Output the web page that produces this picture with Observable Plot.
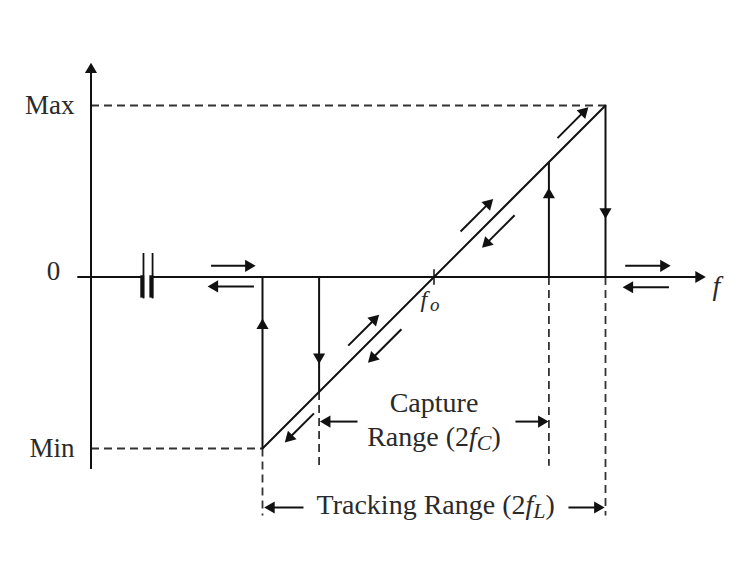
<!DOCTYPE html>
<html><head><meta charset="utf-8">
<script src="https://cdn.jsdelivr.net/npm/d3@7"></script>
<script src="https://cdn.jsdelivr.net/npm/@observablehq/plot@0.6"></script>
<style>body{margin:0;background:#fff}</style>
</head><body><div id="chart"></div>
<script>
// ---- Data (f measured from f0; tracking half-range fL = 1; output Max = 1, Min = -1) ----
const fL = 1, fC = 0.67;
const vMax = 1, vMin = -1;
const yLabels = ["Max", "0", "Min"];
const yLabelValues = [vMax, 0, vMin];
const xAxisExtent = [-2.08, 1.585];
const yAxisExtent = [-1.12, 1.25];
const yAxisAt = -2;
const breakX = [-1.694, -1.641];

// transfer characteristic (locked region)
const lineX = [-fL, fL];
const lineY = [vMin, vMax];

// vertical jumps
const jumpX  = [-fL, -fC, fC, fL];
const jumpY1 = [0, 0, 0, vMax];
const jumpY2 = [vMin, -fC, fC, 0];
const jumpHeadY = [-0.283, -0.466, 0.48, 0.38];
const jumpHeadDir = [1, -1, 1, -1]; // 1 = up, -1 = down

// dashed guides
const hDashY  = [vMax, vMin];
const hDashX1 = [yAxisAt, yAxisAt];
const hDashX2 = [fL, -fL];
const vDashX  = [-fL, -fC, fC, fL];
const vDashY1 = [vMin, -fC, 0, 0];
const vDashY2 = [-1.39, -1.10, -1.10, -1.39];

// direction arrows (start -> tip)
const arrowX1 = [-1.30, -1.05, 1.115, 1.37,  0.72, 0.155, 0.47, -0.50, -0.19, -0.70, -0.446, 0.475, -0.761, 0.784];
const arrowY1 = [0.065, -0.055, 0.065, -0.06, 0.81, 0.265, 0.36, -0.40, -0.305, -0.795, -0.843, -0.843, -1.344, -1.344];
const arrowX2 = [-1.04, -1.32, 1.38, 1.10,  0.90, 0.345, 0.28, -0.32, -0.385, -0.87, -0.665, 0.668, -0.99, 0.995];
const arrowY2 = [0.065, -0.055, 0.065, -0.06, 0.99, 0.455, 0.17, -0.22, -0.50, -0.965, -0.843, -0.843, -1.344, -1.344];

// text labels
const captureTitle = "Capture";
const captureRange = "Range (2fC)";
const trackingRange = "Tracking Range (2fL)";

// ---- Build ----
const xRange = [262, 605], yRange = [448, 105];
const pxPerUnit = (xRange[1] - xRange[0]) / 2;
const headR = 4.5;
const tipPx = 2 * Math.sqrt(Math.PI * headR * headR / (3 * Math.sqrt(3)));
const headBack = tipPx / pxPerUnit;

const arrows = arrowX1.map((x1, i) => {
  const x2 = arrowX2[i], y1 = arrowY1[i], y2 = arrowY2[i];
  const L = Math.hypot(x2 - x1, y2 - y1);
  const ux = (x2 - x1) / L, uy = (y2 - y1) / L;
  return {x1, y1, x2: x2 - ux * headBack, y2: y2 - uy * headBack,
          cx: x2 - ux * headBack, cy: y2 - uy * headBack,
          rot: Math.atan2(-uy, ux) * 180 / Math.PI + 90};
});
// axis heads
arrows.push({cx: xAxisExtent[1] - headBack, cy: 0, rot: 90});
arrows.push({cx: yAxisAt, cy: yAxisExtent[1] - headBack, rot: 0});
const jumpHeads = jumpX.map((x, i) => ({cx: x, cy: jumpHeadY[i], rot: jumpHeadDir[i] > 0 ? 0 : 180}));
const heads = arrows.filter(d => d.cx !== undefined).concat(jumpHeads);

const ink = "#111", dashInk = "#333", textInk = "#2a2a2a";
const serif = "'Liberation Serif', 'Times New Roman', serif";

const chart = Plot.plot({
  width: 752, height: 577, margin: 0,
  x: {domain: [-1, 1], range: xRange, axis: null},
  y: {domain: [-1, 1], range: yRange, axis: null},
  style: {background: "white", fontFamily: serif},
  marks: [
    // dashed guides
    Plot.link(hDashY.map((y, i) => ({x1: hDashX1[i], x2: hDashX2[i], y})),
      {x1: "x1", x2: "x2", y1: "y", y2: "y", stroke: dashInk, strokeWidth: 1.8, strokeDasharray: "8,5"}),
    Plot.link(vDashX.map((x, i) => ({x, y1: vDashY1[i], y2: vDashY2[i]})),
      {x1: "x", x2: "x", y1: "y1", y2: "y2", stroke: dashInk, strokeWidth: 1.8, strokeDasharray: "8,5"}),
    // axes
    Plot.link([{x1: xAxisExtent[0], x2: breakX[0]}, {x1: breakX[1], x2: xAxisExtent[1] - headBack}],
      {x1: "x1", x2: "x2", y1: 0, y2: 0, stroke: ink, strokeWidth: 2}),
    Plot.link([{y1: yAxisExtent[0], y2: yAxisExtent[1] - headBack}],
      {x1: yAxisAt, x2: yAxisAt, y1: "y1", y2: "y2", stroke: ink, strokeWidth: 2}),
    // axis break symbol
    Plot.link(breakX, {x1: d => d, x2: d => d, y1: 0.14, y2: -0.125, stroke: ink, strokeWidth: 1.8}),
    Plot.link(breakX, {x1: d => d - 0.007, x2: d => d - 0.007, y1: 0.01, y2: -0.12, stroke: ink, strokeWidth: 4}),
    // f0 tick
    Plot.link([0], {x1: 0, x2: 0, y1: 0.045, y2: -0.045, stroke: ink, strokeWidth: 1.5}),
    // characteristic
    Plot.line(lineX.map((x, i) => ({x, y: lineY[i]})), {x: "x", y: "y", stroke: ink, strokeWidth: 2}),
    // jumps
    Plot.link(jumpX.map((x, i) => ({x, y1: jumpY1[i], y2: jumpY2[i]})),
      {x1: "x", x2: "x", y1: "y1", y2: "y2", stroke: ink, strokeWidth: 2}),
    // arrow shafts
    Plot.link(arrows.filter(d => d.x1 !== undefined),
      {x1: "x1", y1: "y1", x2: "x2", y2: "y2", stroke: ink, strokeWidth: 2}),
    // arrow heads
    Plot.dot(heads, {x: "cx", y: "cy", rotate: "rot", symbol: "triangle", r: headR, fill: ink, stroke: "none"}),
    // labels
    Plot.text(yLabels, {x: (d, i) => i === 1 ? -2.18 : -2.096, y: (d, i) => yLabelValues[i] + (i === 1 ? 0.03 : 0),
      text: d => d, textAnchor: "end", fontSize: 27, fill: textInk}),
    Plot.text(["f"], {x: 1.624, y: -0.05, text: d => d, textAnchor: "start", fontSize: 28, fontStyle: "italic", fill: textInk}),
    Plot.text(["f"], {x: -0.06, y: -0.13, text: d => d, fontSize: 24, fontStyle: "italic", fill: textInk}),
    Plot.text(["o"], {x: 0.005, y: -0.16, text: d => d, fontSize: 19, fontStyle: "italic", fill: textInk}),
    Plot.text([captureTitle], {x: 0, y: -0.732, text: d => d, fontSize: 28, fill: textInk}),
    Plot.text([captureRange], {x: 0, y: -0.936, text: d => d, fontSize: 28, fill: textInk}),
    Plot.text([trackingRange], {x: 0.01, y: -1.332, text: d => d, fontSize: 28, fill: textInk})
  ]
});
document.getElementById("chart").appendChild(chart);

// rich text for the range labels (italic f and lowered subscript letters)
function richify(str, parts) {
  d3.select(chart).selectAll("text").each(function () {
    if (this.textContent !== str) return;
    const t = d3.select(this);
    t.text(null);
    parts.forEach(p => {
      const s = t.append("tspan").text(p.t);
      if (p.italic) s.attr("font-style", "italic");
      if (p.sub) s.attr("font-size", "22px").attr("dy", 4);
      if (p.up) s.attr("dy", -4);
    });
  });
}
richify(captureRange, [{t: "Range (2"}, {t: "f", italic: true}, {t: "C", italic: true, sub: true}, {t: ")", up: true}]);
richify(trackingRange, [{t: "Tracking Range (2"}, {t: "f", italic: true}, {t: "L", italic: true, sub: true}, {t: ")", up: true}]);
</script>
</body></html>
